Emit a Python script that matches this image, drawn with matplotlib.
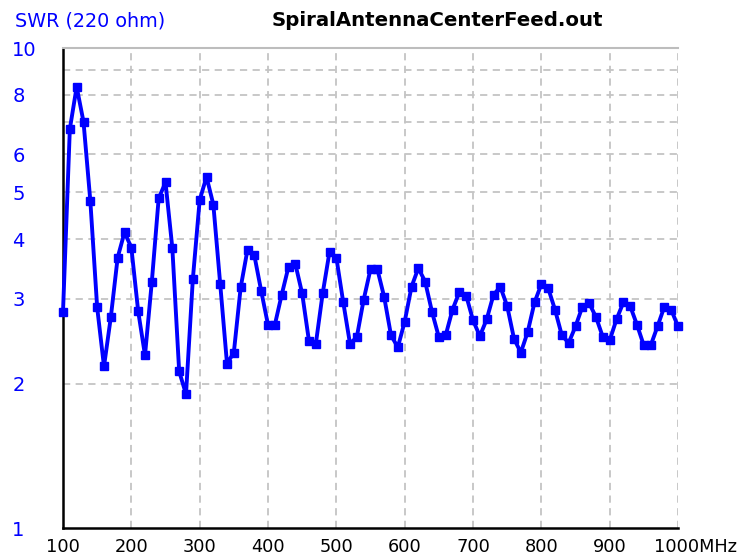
import matplotlib
matplotlib.use("Agg")
import matplotlib.pyplot as plt
from matplotlib.ticker import FixedLocator, NullFormatter
from matplotlib.transforms import ScaledTranslation

# SWR sweep, 100-1000 MHz in 10 MHz steps
freq_mhz = list(range(100, 1001, 10))
swr = [
    2.82, 6.78, 8.30, 7.02, 4.80, 2.88, 2.17, 2.75, 3.66, 4.13,
    3.84, 2.83, 2.29, 3.26, 4.86, 5.25, 3.83, 2.12, 1.90, 3.30,
    4.82, 5.39, 4.72, 3.23, 2.20, 2.32, 3.17, 3.80, 3.70, 3.12,
    2.65, 2.65, 3.06, 3.50, 3.55, 3.08, 2.45, 2.42, 3.08, 3.76,
    3.66, 2.96, 2.42, 2.50, 2.99, 3.46, 3.46, 3.03, 2.52, 2.38,
    2.69, 3.18, 3.48, 3.26, 2.82, 2.50, 2.52, 2.85, 3.10, 3.05,
    2.71, 2.51, 2.72, 3.06, 3.18, 2.90, 2.48, 2.32, 2.56, 2.95,
    3.22, 3.16, 2.85, 2.52, 2.43, 2.63, 2.89, 2.94, 2.75, 2.50,
    2.46, 2.72, 2.95, 2.90, 2.65, 2.40, 2.40, 2.63, 2.89, 2.85,
    2.63,
]

x_ticks = [100, 200, 300, 400, 500, 600, 700, 800, 900, 1000]
x_labels = ["100", "200", "300", "400", "500", "600", "700", "800", "900", "1000MHz"]
y_ticks = [1, 2, 3, 4, 5, 6, 8, 10]
y_labels = ["1", "2", "3", "4", "5", "6", "8", "10"]
y_grid = [2, 3, 4, 5, 6, 7, 8, 9]

BLUE = "#0000ff"
GRID = "#c4c4c4"

fig = plt.figure(figsize=(7.4, 5.58), dpi=100)
ax = fig.add_axes([63 / 740, 30 / 558, 615 / 740, 480 / 558])

ax.set_yscale("log")
ax.set_xlim(100, 1000)
ax.set_ylim(1, 10)

ax.plot(freq_mhz, swr, color=BLUE, lw=2.8, marker="s", ms=5.5,
        markeredgecolor=BLUE, zorder=3, clip_on=False)

# ticks and labels
ax.xaxis.set_major_locator(FixedLocator(x_ticks))
ax.set_xticklabels(x_labels)
ax.yaxis.set_major_locator(FixedLocator(y_ticks))
ax.yaxis.set_minor_locator(FixedLocator(y_grid))
ax.yaxis.set_minor_formatter(NullFormatter())
ax.yaxis.remove_overlapping_locs = False
ax.set_yticklabels(y_labels)

ax.tick_params(axis="both", which="both", length=0)
ax.tick_params(axis="x", pad=7, labelsize=12.8, labelcolor="black")
ax.tick_params(axis="y", pad=36.5, labelsize=14, labelcolor=BLUE)
for lab in ax.get_yticklabels():
    lab.set_horizontalalignment("left")

# "1000MHz": keep the number centred on its tick
last = ax.get_xticklabels()[-1]
last.set_horizontalalignment("left")
last.set_transform(last.get_transform() + ScaledTranslation(-0.235, 0, fig.dpi_scale_trans))

# dashed grey grid
ax.grid(False)
ax.xaxis.grid(True, which="major", color=GRID, ls=(0, (4, 3)), lw=1.3)
ax.yaxis.grid(True, which="minor", color=GRID, ls=(0, (4, 3)), lw=1.3)

for side in ["left", "bottom"]:
    ax.spines[side].set_color("black")
    ax.spines[side].set_linewidth(1.8)
ax.spines["right"].set_visible(False)
ax.spines["top"].set_color("#bdbdbd")
ax.spines["top"].set_linewidth(1.5)

fig.text(15 / 740, 1 - 21 / 558, "SWR (220 ohm)", color=BLUE, fontsize=13.8,
         ha="left", va="center")
fig.text(437 / 740, 1 - 20 / 558, "SpiralAntennaCenterFeed.out", color="black",
         fontsize=14.2, fontweight="bold", ha="center", va="center")

fig.savefig("out.png", dpi=100, facecolor="white")
